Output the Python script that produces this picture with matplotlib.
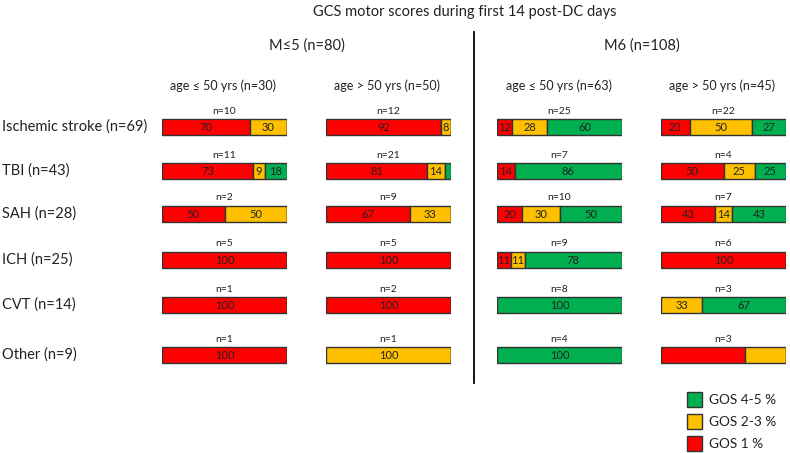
import matplotlib
matplotlib.use('agg')
import matplotlib.pyplot as plt

plt.rcParams['font.family'] = ['Lato', 'DejaVu Sans']

# data
diagnoses = ['Ischemic stroke (n=69)', 'TBI (n=43)', 'SAH (n=28)',
             'ICH (n=25)', 'CVT (n=14)', 'Other (n=9)']
groups = ['M\u22645 (n=80)', 'M6 (n=108)']
subgroups = ['age \u2264 50 yrs (n=30)', 'age > 50 yrs (n=50)',
             'age \u2264 50 yrs (n=63)', 'age > 50 yrs (n=45)']

# GOS 1 / GOS 2-3 / GOS 4-5 percentages, one list per column (rows = diagnoses)
gos1 = [[70, 73, 50, 100, 100, 100],
        [92, 81, 67, 100, 100, 0],
        [12, 14, 20, 11, 0, 0],
        [23, 50, 43, 100, 0, 67]]
gos23 = [[30, 9, 50, 0, 0, 0],
         [8, 14, 33, 0, 0, 100],
         [28, 0, 30, 11, 0, 0],
         [50, 25, 14, 0, 33, 33]]
gos45 = [[0, 18, 0, 0, 0, 0],
         [0, 5, 0, 0, 0, 0],
         [60, 86, 50, 78, 100, 100],
         [27, 25, 43, 0, 67, 0]]
n_pat = [[10, 11, 2, 5, 1, 1],
         [12, 21, 9, 5, 2, 1],
         [25, 7, 10, 9, 8, 4],
         [22, 4, 7, 6, 3, 3]]
# segments printed without numbers in the original
unlabeled = {(1, 1, 2), (3, 5, 0), (3, 5, 1)}

colors = ['#FF0000', '#FFC000', '#00B050']
legend_labels = ['GOS 4-5 %', 'GOS 2-3 %', 'GOS 1 %']

W, H = 790, 453
fig = plt.figure(figsize=(W / 100, H / 100), dpi=100)

# layout in pixels
col_left = [162, 326, 497, 661]
col_width = 125
row_y = [127, 171, 214, 260, 305, 355]
bar_h = 16

for c in range(4):
    ax = fig.add_axes([col_left[c] / W, 0, col_width / W, 1])
    ax.set_xlim(0, 100)
    ax.set_ylim(H, 0)
    ax.axis('off')
    left = [0] * 6
    for k, vals in enumerate([gos1[c], gos23[c], gos45[c]]):
        bars = ax.barh(row_y, vals, left=left, height=bar_h, color=colors[k],
                       edgecolor='#333333', linewidth=1)
        for r, (b, v) in enumerate(zip(bars, vals)):
            if v > 0 and (c, r, k) not in unlabeled:
                ax.text(left[r] + v / 2, row_y[r] + 0.5, str(v), ha='center',
                        va='center', fontsize=8, color='#222222')
        left = [a + b for a, b in zip(left, vals)]
    for r in range(6):
        ax.text(50, row_y[r] - bar_h / 2 - 8, f'n={n_pat[c][r]}', ha='center',
                va='center', fontsize=7.5, color='#222222')

# text overlay
fig.text(465 / W, 1 - 12 / H, 'GCS motor scores during first 14 post-DC days',
         ha='center', va='center', fontsize=10.5, color='#222222')
fig.text(307 / W, 1 - 46 / H, groups[0], ha='center', va='center', fontsize=10.5,
         color='#222222')
fig.text(642 / W, 1 - 46 / H, groups[1], ha='center', va='center', fontsize=10.5,
         color='#222222')
for c, x in enumerate([223, 387, 559, 722]):
    fig.text(x / W, 1 - 86 / H, subgroups[c], ha='center', va='center', fontsize=9,
             color='#222222')
for r, lab in enumerate(diagnoses):
    fig.text(2 / W, 1 - row_y[r] / H, lab, ha='left', va='center', fontsize=10.5,
             color='#222222')

# divider line
fig.add_artist(plt.Line2D([474 / W, 474 / W], [1 - 32 / H, 1 - 383 / H],
                          color='black', linewidth=1.3))

# legend
for i, (lab, col) in enumerate(zip(legend_labels, [colors[2], colors[1], colors[0]])):
    yc = 399.5 + i * 22
    fig.add_artist(plt.Rectangle((687 / W, 1 - (yc + 7.5) / H), 15 / W, 15 / H,
                                 facecolor=col, edgecolor='#333333', linewidth=1))
    fig.text(709 / W, 1 - yc / H, lab, ha='left', va='center', fontsize=9.8,
             color='#222222')

fig.savefig('out.png', dpi=100)
